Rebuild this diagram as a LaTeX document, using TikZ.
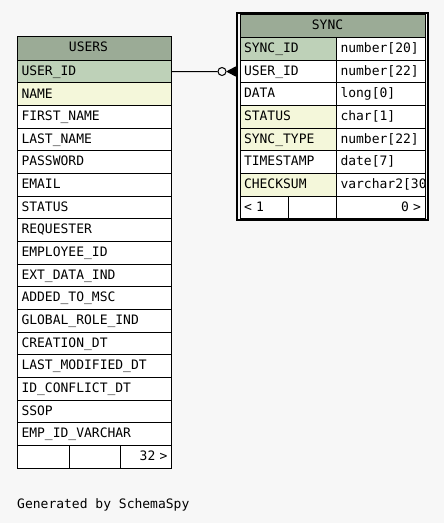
\documentclass[tikz,border=0pt]{standalone}
\usepackage{fontspec}
\usepackage{xcolor}
\usepackage{tikz}
\usetikzlibrary{positioning}

\newfontfamily\schemafont{DejaVu Sans Mono}
\definecolor{bgGray}{HTML}{F7F7F7}
\definecolor{headGreen}{HTML}{9BAB96}
\definecolor{keyGreen}{HTML}{BED1B8}
\definecolor{idxYellow}{HTML}{F4F7DA}

\tikzset{
	cell/.style={draw=black, line width=1pt, fill=white, rectangle,
		anchor=north west, minimum height=22.65pt, inner xsep=4pt,
		inner ysep=0pt, outer sep=0pt, text height=9.5pt, text depth=2pt,
		align=left, font=\schemafont\fontsize{13}{15}\selectfont},
	ucol/.style={cell, text width=146pt},
	sname/.style={cell, text width=88.5pt},
	stype/.style={cell, text width=80.5pt},
	hdr/.style={cell, fill=headGreen, minimum height=#1},
	txt/.style={inner sep=0pt, text height=9.5pt, text depth=2pt,
		font=\schemafont\fontsize{13}{15}\selectfont}
}

\begin{document}
\begin{tikzpicture}[x=1pt, y=-1pt]
		\fill[bgGray] (0,0) rectangle (444,523);
		\useasboundingbox (0,0) rectangle (444,523);
		%
		% USERS
		\node[hdr=24.3pt, text width=146pt] (users) at (17.5,36) {};
		\node[txt] (users-title) at ([xshift=-6pt]users.center) {USERS};
		\node[ucol, fill=keyGreen] (users-userid) at (users.south west) {USER\_ID};
		\node[ucol, fill=idxYellow] (users-name) at (users-userid.south west) {NAME};
		\node[ucol] (users-first) at (users-name.south west) {FIRST\_NAME};
		\node[ucol] (users-last) at (users-first.south west) {LAST\_NAME};
		\node[ucol] (users-pwd) at (users-last.south west) {PASSWORD};
		\node[ucol] (users-email) at (users-pwd.south west) {EMAIL};
		\node[ucol] (users-status) at (users-email.south west) {STATUS};
		\node[ucol] (users-req) at (users-status.south west) {REQUESTER};
		\node[ucol] (users-empid) at (users-req.south west) {EMPLOYEE\_ID};
		\node[ucol] (users-ext) at (users-empid.south west) {EXT\_DATA\_IND};
		\node[ucol] (users-msc) at (users-ext.south west) {ADDED\_TO\_MSC};
		\node[ucol] (users-global) at (users-msc.south west) {GLOBAL\_ROLE\_IND};
		\node[ucol] (users-created) at (users-global.south west) {CREATION\_DT};
		\node[ucol] (users-modified) at (users-created.south west) {LAST\_MODIFIED\_DT};
		\node[ucol] (users-conflict) at (users-modified.south west) {ID\_CONFLICT\_DT};
		\node[ucol] (users-ssop) at (users-conflict.south west) {SSOP};
		\node[ucol] (users-empvar) at (users-ssop.south west) {EMP\_ID\_VARCHAR};
		\node[cell, text width=44pt] (users-f1) at (users-empvar.south west) {};
		\node[cell, text width=43pt] (users-f2) at (users-f1.north east) {};
		\node[cell, text width=43pt, align=right] (users-f3) at (users-f2.north east) {32 >};
		%
		% SYNC
		\node[hdr=23pt, text width=177pt] (sync) at (240,14.5) {};
		\node[txt] (sync-title) at ([xshift=-5pt]sync.center) {SYNC};
		\node[sname, fill=keyGreen] (sync-syncid) at (sync.south west) {SYNC\_ID};
		\node[sname] (sync-userid) at (sync-syncid.south west) {USER\_ID};
		\node[sname] (sync-data) at (sync-userid.south west) {DATA};
		\node[sname, fill=idxYellow] (sync-status) at (sync-data.south west) {STATUS};
		\node[sname, fill=idxYellow] (sync-type) at (sync-status.south west) {SYNC\_TYPE};
		\node[sname] (sync-time) at (sync-type.south west) {TIMESTAMP};
		\node[sname, fill=idxYellow] (sync-check) at (sync-time.south west) {CHECKSUM};
		\node[stype] (sync-syncid-t) at (sync-syncid.north east) {number[20]};
		\node[stype] (sync-userid-t) at (sync-userid.north east) {number[22]};
		\node[stype] (sync-data-t) at (sync-data.north east) {long[0]};
		\node[stype] (sync-status-t) at (sync-status.north east) {char[1]};
		\node[stype] (sync-type-t) at (sync-type.north east) {number[22]};
		\node[stype] (sync-time-t) at (sync-time.north east) {date[7]};
		\begin{scope}
			\clip (336.5,173) rectangle (425,197);
			\node[stype] (sync-check-t) at (sync-check.north east) {varchar2[30]};
		\end{scope}
		\node[cell, text width=40.5pt] (sync-f1) at (sync-check.south west) {< 1};
		\node[cell, text width=40pt] (sync-f2) at (sync-f1.north east) {};
		\node[stype, align=right] (sync-f3) at (sync-f2.north east) {0 >};
		\draw[line width=1pt] (sync.north west) rectangle (sync-f3.south east);
		\draw[line width=2pt] (237,13) rectangle (428,220);
		%
		% relation
		\node[draw, circle, line width=1pt, fill=bgGray, minimum size=8pt, inner sep=0pt] (opt) at (222,71.5) {};
		\coordinate (foot) at (227.5,71.5);
		\draw[line width=1pt] (users-userid.east) -- (opt.west);
		\fill (foot) -- (236,67.5) -- (236,75.5) -- cycle;
		\draw[line width=1.3pt] (opt.east) -- (236,71.5)
			(foot) -- (236,67)
			(foot) -- (236,76);
		%
		\node[txt, anchor=west] (credit) at (17,505) {Generated by SchemaSpy};
	\end{tikzpicture}
\end{document}
